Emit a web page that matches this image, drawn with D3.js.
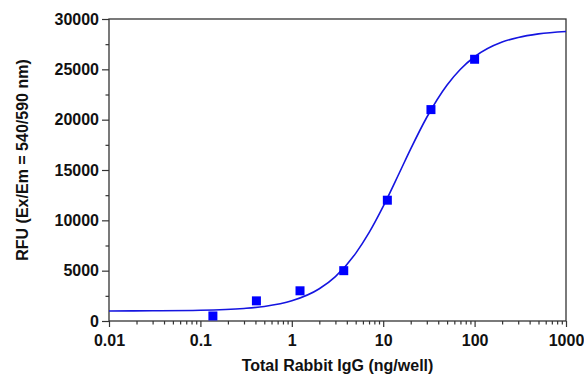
<!DOCTYPE html>
<html><head><meta charset="utf-8">
<script src="https://cdn.jsdelivr.net/npm/d3@7"></script>
<style>body{margin:0;background:#fff}svg{display:block}text{font-family:"Liberation Sans",Arial,sans-serif;font-weight:bold;fill:#111}</style>
</head><body>
<script>
// measured points (ng/well, RFU)
const pointX = [0.137, 0.41, 1.23, 3.7, 11.1, 33.3, 100];
const pointY = [500, 2000, 3000, 5000, 12000, 21000, 26000];
// fitted curve
const curveX = [0.01, 0.03, 0.1, 0.3, 0.5, 1, 2, 3, 5, 7, 10, 15, 20, 30, 50, 70, 100, 200, 300, 500, 1000];
const curveY = [1000, 1015, 1065, 1245, 1445, 2005, 3205, 4415, 6715, 8770, 11380, 14700, 17100, 20240, 23450, 25010, 26250, 27710, 28170, 28520, 28760];
const xTicks = [0.01, 0.1, 1, 10, 100, 1000];
const xTickLabels = ["0.01", "0.1", "1", "10", "100", "1000"];
const yTicks = [0, 5000, 10000, 15000, 20000, 25000, 30000];

const W = 584, H = 375;
const m = {l: 109, r: 18, t: 19, b: 54};
const svg = d3.select("body").append("svg").attr("width", W).attr("height", H);
const x = d3.scaleLog().domain([0.01, 1000]).range([m.l, W - m.r]);
const y = d3.scaleLinear().domain([0, 30000]).range([H - m.b, m.t]);

// frame
svg.append("rect").attr("x", m.l).attr("y", m.t).attr("width", W - m.r - m.l).attr("height", H - m.b - m.t)
  .attr("fill", "none").attr("stroke", "#333").attr("stroke-width", 1.3);

// x minor ticks
const xMinor = [];
for (let e = -2; e < 3; e++) for (let k = 2; k <= 9; k++) xMinor.push(k * Math.pow(10, e));
const ax = svg.append("g").attr("transform", `translate(0,${H - m.b})`);
ax.call(d3.axisBottom(x).tickValues(xMinor).tickSize(3.5).tickFormat(""));
ax.append("g").call(d3.axisBottom(x).tickValues(xTicks).tickSize(6).tickFormat((d, i) => xTickLabels[i]));
ax.selectAll(".domain").remove();
ax.selectAll("line").attr("stroke", "#333").attr("stroke-width", 1.2);
ax.selectAll("text").attr("font-size", 16).attr("y", 25).attr("dy", 0).attr("fill", "#111");

// y axis
const yMinor = d3.range(2500, 30000, 5000);
const ay = svg.append("g").attr("transform", `translate(${m.l},0)`);
ay.call(d3.axisLeft(y).tickValues(yMinor).tickSize(3.5).tickFormat(""));
ay.append("g").call(d3.axisLeft(y).tickValues(yTicks).tickSize(7).tickFormat(d3.format("d")));
ay.selectAll(".domain").remove();
ay.selectAll("line").attr("stroke", "#333").attr("stroke-width", 1.2);
ay.selectAll("text").attr("font-size", 16).attr("x", -10).attr("dy", 0).attr("y", 5).attr("fill", "#111");

// curve
const curve = curveX.map((v, i) => [v, curveY[i]]);
svg.append("path").datum(curve)
  .attr("d", d3.line().x(d => x(d[0])).y(d => y(d[1])).curve(d3.curveMonotoneX))
  .attr("fill", "none").attr("stroke", "#1515e0").attr("stroke-width", 1.6);

// points
const s = 9;
svg.selectAll("rect.pt").data(pointX.map((v, i) => [v, pointY[i]])).enter().append("rect")
  .attr("class", "pt").attr("x", d => x(d[0]) - s / 2).attr("y", d => y(d[1]) - s / 2)
  .attr("width", s).attr("height", s).attr("fill", "#0000ff");

// titles
svg.append("text").attr("x", (m.l + W - m.r) / 2).attr("y", 371).attr("text-anchor", "middle")
  .attr("font-size", 16).text("Total Rabbit IgG (ng/well)");
svg.append("text").attr("transform", `translate(27.5,160) rotate(-90)`)
  .attr("text-anchor", "middle").attr("font-size", 16).text("RFU (Ex/Em = 540/590 nm)");
</script>
</body></html>
